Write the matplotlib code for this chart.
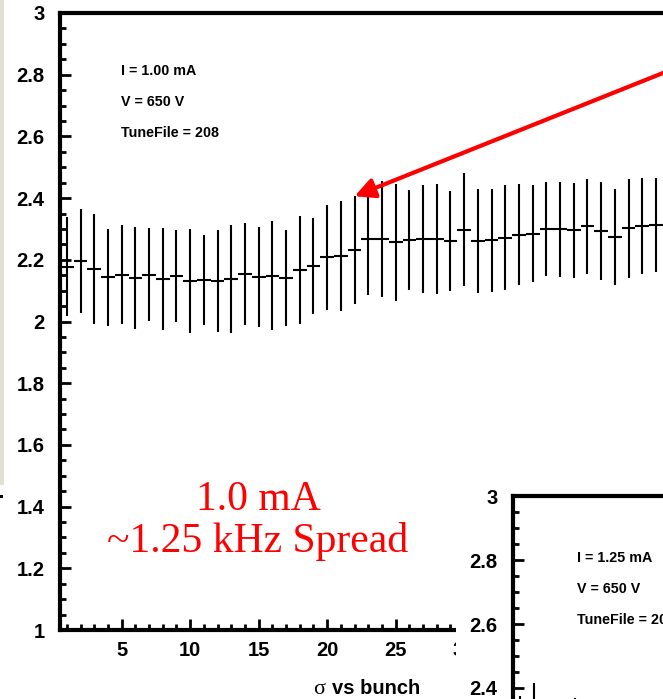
import matplotlib
matplotlib.use("Agg")
import matplotlib.pyplot as plt
from matplotlib.patches import Rectangle
from matplotlib.ticker import MultipleLocator, FuncFormatter

# sigma per bunch, I = 1.00 mA (main plot)
bunch1 = list(range(1, 45))
sigma1 = [2.178, 2.197, 2.169, 2.143, 2.152, 2.141, 2.152, 2.138, 2.147, 2.132,
          2.134, 2.132, 2.137, 2.153, 2.144, 2.148, 2.142, 2.167, 2.179, 2.208,
          2.213, 2.231, 2.268, 2.268, 2.257, 2.263, 2.267, 2.267, 2.261, 2.298,
          2.261, 2.263, 2.272, 2.281, 2.285, 2.301, 2.299, 2.296, 2.308, 2.293,
          2.273, 2.302, 2.309, 2.313]
err1 = [0.161, 0.169, 0.178, 0.157, 0.160, 0.164, 0.150, 0.166, 0.150, 0.169,
        0.146, 0.165, 0.175, 0.165, 0.163, 0.177, 0.156, 0.174, 0.155, 0.170,
        0.178, 0.175, 0.182, 0.187, 0.190, 0.162, 0.176, 0.179, 0.161, 0.182,
        0.170, 0.166, 0.170, 0.164, 0.157, 0.152, 0.154, 0.154, 0.154, 0.159,
        0.155, 0.161, 0.156, 0.153]

# sigma per bunch, I = 1.25 mA (second plot, mostly cut off)
bunch2 = list(range(1, 11))
sigma2 = [2.20, 2.24, 2.19, 2.18, 2.20, 2.17, 2.16, 2.17, 2.16, 2.15]
err2 = [0.175, 0.175, 0.15, 0.15, 0.17, 0.15, 0.15, 0.15, 0.15, 0.15]

info1 = ["I = 1.00 mA", "V = 650 V", "TuneFile = 208"]
info2 = ["I = 1.25 mA", "V = 650 V", "TuneFile = 208"]

W, H = 663, 699
plt.rcParams['font.family'] = ['Liberation Sans', 'DejaVu Sans']
plt.rcParams['font.weight'] = 'bold'

fig = plt.figure(figsize=(W / 100, H / 100), dpi=100)
fig.patch.set_facecolor('white')


def fx(x):
    return x / W


def fy(y):
    return 1 - y / H


def style_axes(ax, xmax, ymin_label, xlabel_max):
    for s in ['top', 'left', 'bottom']:
        ax.spines[s].set_linewidth(3)
    ax.spines['right'].set_visible(False)
    ax.set_ylim(1, 3)
    ax.set_xlim(0.5, xmax)
    ax.yaxis.set_major_locator(MultipleLocator(0.2))
    ax.yaxis.set_minor_locator(MultipleLocator(0.05))
    ax.xaxis.set_major_locator(MultipleLocator(5))
    ax.xaxis.set_minor_locator(MultipleLocator(1))
    ax.yaxis.set_major_formatter(FuncFormatter(
        lambda v, p: "%g" % round(v, 2) if v > ymin_label else ""))
    ax.xaxis.set_major_formatter(FuncFormatter(
        lambda v, p: "%g" % v if v <= xlabel_max else ""))
    ax.tick_params(which='both', direction='in', width=2, labelsize=14.5,
                   top=False, right=False)
    ax.tick_params(which='major', length=8)
    ax.tick_params(which='minor', length=4)
    ax.tick_params(axis='y', pad=11)
    ax.tick_params(axis='x', pad=8)


# main plot
ax = fig.add_axes([fx(60), fy(630), 45 * 13.7 / W, 617 / H])
style_axes(ax, 45.5, 0.9, 30)
ax.errorbar(bunch1, sigma1, yerr=err1, xerr=0.5, fmt='none', ecolor='black',
            elinewidth=1.5, capsize=0)
for i, t in enumerate(info1):
    fig.text(fx(121), fy(75 + 31 * i), t, fontsize=10.3, va='baseline')

ax.annotate('', xy=(22, sigma1[21] + err1[21]), xycoords='data',
            xytext=(W + 40, H - 57), textcoords='figure pixels',
            arrowprops=dict(arrowstyle='-|>', color='red', lw=3,
                            mutation_scale=30, shrinkA=0, shrinkB=0),
            annotation_clip=False)

# white box of the second plot covering the corner
fig.patches.append(Rectangle((fx(456), 0), 1 - fx(456), 214 / H,
                             transform=fig.transFigure, facecolor='white',
                             edgecolor='none', zorder=1))
# slide background strip on the left
fig.patches.append(Rectangle((0, fy(485)), fx(4), 485 / H,
                             transform=fig.transFigure, facecolor='#E2E1D1',
                             edgecolor='none', zorder=1))
fig.patches.append(Rectangle((0, fy(498)), fx(3), 3 / H,
                             transform=fig.transFigure, facecolor='black',
                             edgecolor='none', zorder=1))

# second plot
ax2 = fig.add_axes([fx(513), fy(496 + 640), 12 * 13.7 / W, 640 / H])
ax2.set_zorder(2)
style_axes(ax2, 12.5, 2.35, 0)
ax2.tick_params(axis='x', labelbottom=False)
ax2.errorbar(bunch2, sigma2, yerr=err2, xerr=0.5, fmt='none', ecolor='black',
             elinewidth=1.5, capsize=0)
for i, t in enumerate(info2):
    fig.text(fx(577), fy(562 + 31 * i), t, fontsize=10.3, va='baseline',
             zorder=5)

# axis title
fig.text(fx(313), fy(694), "σ", fontsize=16, family='Liberation Serif',
         fontweight='normal', va='baseline')
fig.text(fx(332), fy(694), "vs bunch", fontsize=14.5, va='baseline')

# slide annotation
fig.text(fx(258), fy(510), "1.0 mA", fontsize=30, color='red',
         family='Liberation Serif', fontweight='normal', ha='center',
         va='baseline')
fig.text(fx(258), fy(552), "~1.25 kHz Spread", fontsize=30, color='red',
         family='Liberation Serif', fontweight='normal', ha='center',
         va='baseline')

fig.savefig("out.png", dpi=100)
